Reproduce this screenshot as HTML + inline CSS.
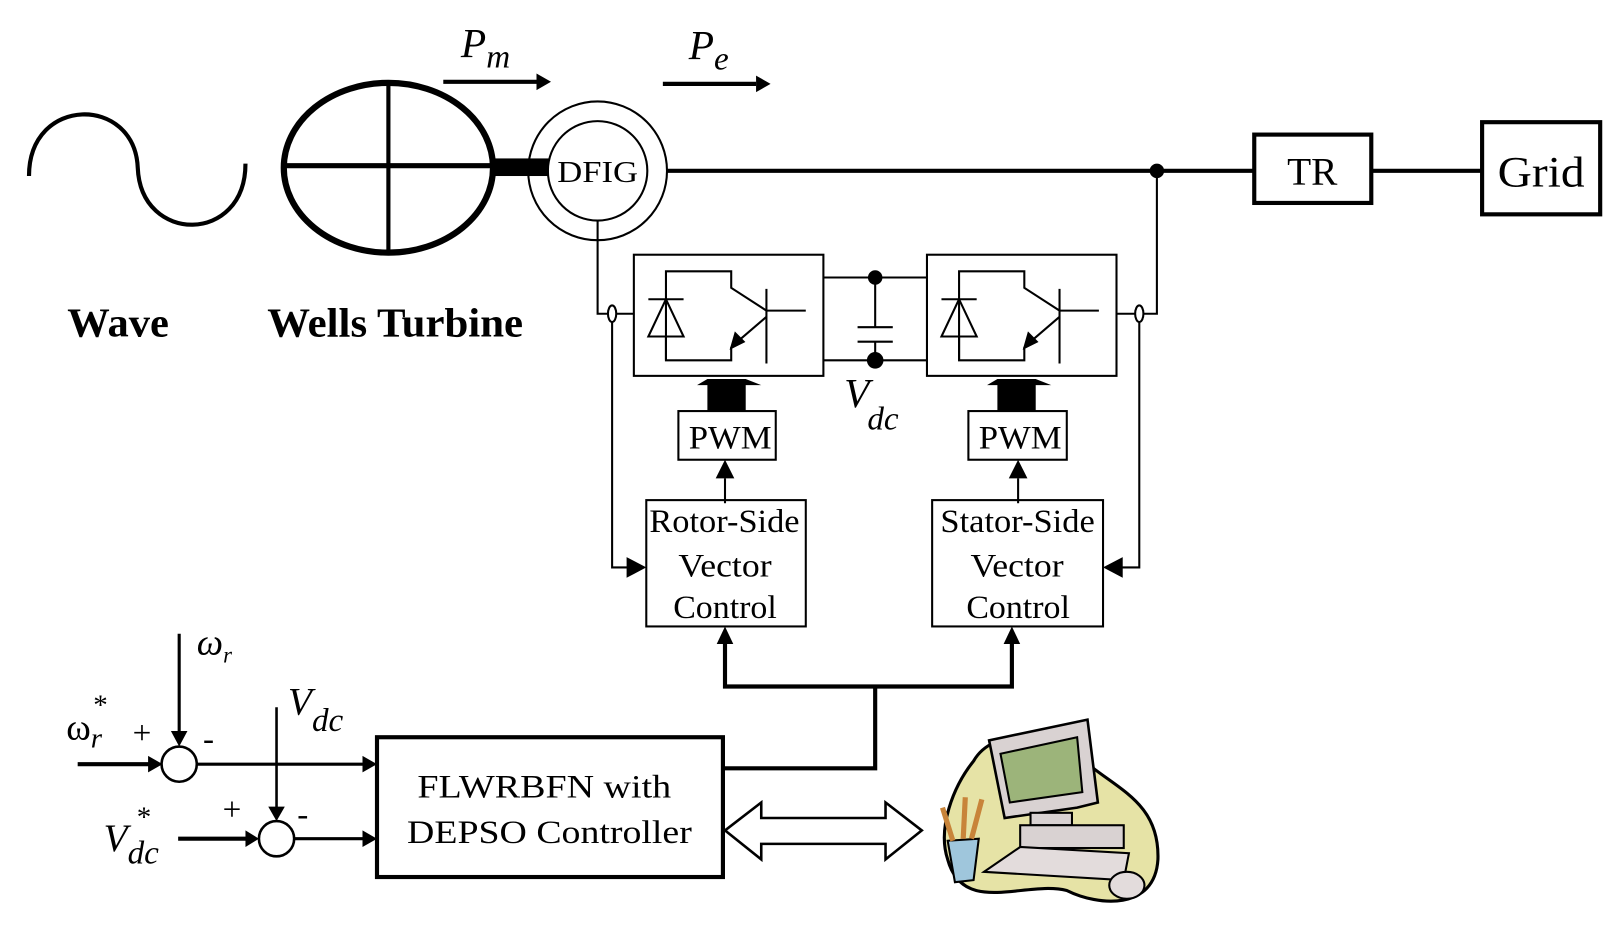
<!DOCTYPE html>
<html><head><meta charset="utf-8"><style>
html,body{margin:0;padding:0;background:#fff;}
svg{display:block;}
text{font-family:"Liberation Serif",serif;fill:#000;}
</style></head><body>
<svg width="1624" height="935" viewBox="0 0 1568 903" preserveAspectRatio="none" xmlns="http://www.w3.org/2000/svg">
<g fill="none" stroke="#000">
<path d="M28,170 C28,92 130,92 133,162 C136,236 237,236 237,158" stroke-width="4"/>
<ellipse cx="375" cy="162" rx="101" ry="82" stroke-width="6"/>
<line x1="375" y1="80" x2="375" y2="244" stroke-width="4"/>
<line x1="274" y1="160" x2="476" y2="160" stroke-width="5"/>
<rect x="475" y="153" width="55" height="17" fill="#000" stroke="none"/>
<circle cx="577" cy="165" r="67" stroke-width="2"/>
<circle cx="577" cy="165" r="48" stroke-width="2"/>
<line x1="428" y1="79" x2="518" y2="79" stroke-width="4"/>
<line x1="640" y1="81" x2="730" y2="81" stroke-width="4"/>
<line x1="644" y1="165" x2="1211" y2="165" stroke-width="4"/>
<rect x="1211" y="130" width="113" height="66" stroke-width="4"/>
<line x1="1324" y1="165" x2="1431" y2="165" stroke-width="4"/>
<rect x="1431" y="118" width="114" height="89" stroke-width="4"/>
<polyline points="577,213 577,303 612,303" stroke-width="2"/>
<polyline points="591,310 591,548 610,548" stroke-width="2"/>
<ellipse cx="591" cy="303" rx="4" ry="8" stroke-width="2" fill="#fff"/>
<polyline points="1117,165 1117,303 1078,303" stroke-width="2"/>
<polyline points="1100,310 1100,548 1080,548" stroke-width="2"/>
<ellipse cx="1100" cy="303" rx="4" ry="8" stroke-width="2" fill="#fff"/>
<rect x="612" y="246" width="183" height="117" stroke-width="2"/>
<rect x="895" y="246" width="183" height="117" stroke-width="2"/>
<line x1="795" y1="268" x2="895" y2="268" stroke-width="2"/>
<line x1="795" y1="348" x2="895" y2="348" stroke-width="2"/>
<line x1="845" y1="268" x2="845" y2="316" stroke-width="2"/>
<line x1="845" y1="330" x2="845" y2="348" stroke-width="2"/>
<line x1="828" y1="316" x2="862" y2="316" stroke-width="2"/>
<line x1="828" y1="330" x2="862" y2="330" stroke-width="2"/>
<g id="sw" stroke-width="2">
<polyline points="643,348 643,262 706,262 706,278 740,300"/>
<line x1="626" y1="289" x2="660" y2="289"/>
<path d="M643,289 L626,325 L660,325Z"/>
<polyline points="643,325 643,348 706,348 706,335"/>
<line x1="740" y1="279" x2="740" y2="351"/>
<line x1="740" y1="300" x2="778" y2="300"/>
<line x1="740" y1="306" x2="712" y2="330"/>
<path d="M706,336 L710,322 L718,330Z" fill="#000"/>
</g>
<use href="#sw" transform="translate(283,0)"/>
<rect x="655" y="397" width="94" height="47" stroke-width="2"/>
<rect x="935" y="397" width="95" height="47" stroke-width="2"/>
<line x1="700" y1="486" x2="700" y2="462" stroke-width="2"/>
<line x1="983" y1="486" x2="983" y2="462" stroke-width="2"/>
<rect x="624" y="483" width="154" height="122" stroke-width="2"/>
<rect x="900" y="483" width="165" height="122" stroke-width="2"/>
<polyline points="700,622 700,663 977,663 977,622" stroke-width="4"/>
<polyline points="845,663 845,742 698,742" stroke-width="4"/>
<rect x="364" y="712" width="334" height="135" stroke-width="4"/>
<path d="M700,802 L735,775 L735,790 L855,790 L855,775 L890,802 L855,830 L855,815 L735,815 L735,830Z" stroke-width="2.5" fill="#fff"/>
<circle cx="173" cy="738" r="17" stroke-width="2.5"/>
<circle cx="267" cy="810" r="17" stroke-width="2.5"/>
<line x1="75" y1="738" x2="145" y2="738" stroke-width="4"/>
<line x1="173" y1="612" x2="173" y2="710" stroke-width="3"/>
<line x1="190" y1="738" x2="352" y2="738" stroke-width="3"/>
<line x1="267" y1="683" x2="267" y2="782" stroke-width="2.5"/>
<line x1="172" y1="810" x2="240" y2="810" stroke-width="4"/>
<line x1="284" y1="810" x2="352" y2="810" stroke-width="3"/>
</g>
<g fill="#000">
<path d="M518,71 L532,79 L518,87Z"/>
<path d="M730,73 L744,81 L730,89Z"/>
<circle cx="1117" cy="165" r="7"/>
<circle cx="845" cy="268" r="7"/>
<circle cx="845" cy="348" r="8"/>
<path d="M605,538 L624,548 L605,558Z"/>
<path d="M1084,538 L1065,548 L1084,558Z"/>
<path d="M673,372 L683,366 L720,366 L735,372 L720,372 L720,397 L683,397 L683,372Z"/>
<path d="M953,372 L963,366 L1000,366 L1015,372 L1000,372 L1000,397 L963,397 L963,372Z"/>
<path d="M691,462 L700,444 L709,462Z"/>
<path d="M974,462 L983,444 L992,462Z"/>
<path d="M692,622 L700,605 L708,622Z"/>
<path d="M969,622 L977,605 L985,622Z"/>
<path d="M143,730 L157,738 L143,746Z"/>
<path d="M165,706 L173,721 L181,706Z"/>
<path d="M350,730 L364,738 L350,746Z"/>
<path d="M259,779 L267,793 L275,779Z"/>
<path d="M237,802 L250,810 L237,818Z"/>
<path d="M350,802 L364,810 L350,818Z"/>
</g>
<g stroke="#000" stroke-width="3">
<path d="M940,735 C960,700 1020,710 1040,728 C1070,760 1120,770 1118,830 C1115,880 1060,875 1030,860 C990,850 930,885 915,830 C905,800 920,760 940,735Z" fill="#e6e3a6"/>
<path d="M970,790 L955,715 L1050,695 L1060,775 L1040,780Z" fill="#d9d2d2" stroke-width="2.5"/>
<path d="M975,775 L966,728 L1040,712 L1045,765Z" fill="#9cb47a" stroke-width="2"/>
<rect x="995" y="785" width="40" height="12" fill="#d9d2d2" stroke-width="2"/>
<rect x="985" y="797" width="100" height="22" fill="#d9d2d2" stroke-width="2"/>
<path d="M950,842 L985,818 L1090,824 L1085,850Z" fill="#e3dcdc" stroke-width="2"/>
<path d="M915,812 L945,810 L940,850 L922,852Z" fill="#9fc6dc" stroke-width="2"/>
<path d="M920,812 L910,780 M930,810 L932,770 M938,810 L948,772" stroke="#c8843a" stroke-width="5"/>
<ellipse cx="1088" cy="855" rx="17" ry="13" fill="#e3dcdc" stroke-width="2"/>
</g>
<text x="577" y="176" font-size="30" text-anchor="middle" textLength="78" lengthAdjust="spacingAndGlyphs">DFIG</text>
<text x="1267" y="178" font-size="38" text-anchor="middle">TR</text>
<text x="1488" y="180" font-size="42" text-anchor="middle" textLength="84" lengthAdjust="spacingAndGlyphs">Grid</text>
<text x="65" y="325" font-size="40" font-weight="bold" textLength="98" lengthAdjust="spacingAndGlyphs">Wave</text>
<text x="258" y="325" font-size="40" font-weight="bold" textLength="247" lengthAdjust="spacingAndGlyphs">Wells Turbine</text>
<text x="445" y="55" font-size="40" font-style="italic">P<tspan font-size="32" dy="10">m</tspan></text>
<text x="665" y="57" font-size="40" font-style="italic">P<tspan font-size="32" dy="10">e</tspan></text>
<text x="815" y="393" font-size="40" font-style="italic">V<tspan font-size="32" dx="-2" dy="22">dc</tspan></text>
<text x="665" y="433" font-size="32" textLength="80" lengthAdjust="spacingAndGlyphs">PWM</text>
<text x="945" y="433" font-size="32" textLength="80" lengthAdjust="spacingAndGlyphs">PWM</text>
<g font-size="32">
<text x="627" y="514" textLength="145" lengthAdjust="spacingAndGlyphs">Rotor-Side</text>
<text x="655" y="557" textLength="90" lengthAdjust="spacingAndGlyphs">Vector</text>
<text x="650" y="597" textLength="100" lengthAdjust="spacingAndGlyphs">Control</text>
<text x="908" y="514" textLength="149" lengthAdjust="spacingAndGlyphs">Stator-Side</text>
<text x="937" y="557" textLength="90" lengthAdjust="spacingAndGlyphs">Vector</text>
<text x="933" y="597" textLength="100" lengthAdjust="spacingAndGlyphs">Control</text>
<text x="403" y="770" textLength="245" lengthAdjust="spacingAndGlyphs">FLWRBFN with</text>
<text x="393" y="814" textLength="275" lengthAdjust="spacingAndGlyphs">DEPSO Controller</text>
</g>
<text x="190" y="632" font-size="36" font-style="italic">ω<tspan font-size="22" dy="8">r</tspan></text>
<text x="64" y="714" font-size="36">ω<tspan font-size="28" dy="8" font-style="italic">r</tspan></text>
<text x="90" y="690" font-size="28">*</text>
<text x="128" y="718" font-size="32">+</text>
<text x="196" y="724" font-size="32">-</text>
<text x="278" y="690" font-size="38" font-style="italic">V<tspan font-size="32" dy="16">dc</tspan></text>
<text x="215" y="792" font-size="32">+</text>
<text x="287" y="797" font-size="32">-</text>
<text x="100" y="822" font-size="38" font-style="italic">V<tspan font-size="32" dy="12">dc</tspan></text>
<text x="132" y="798" font-size="28">*</text>
</svg>
</body></html>
